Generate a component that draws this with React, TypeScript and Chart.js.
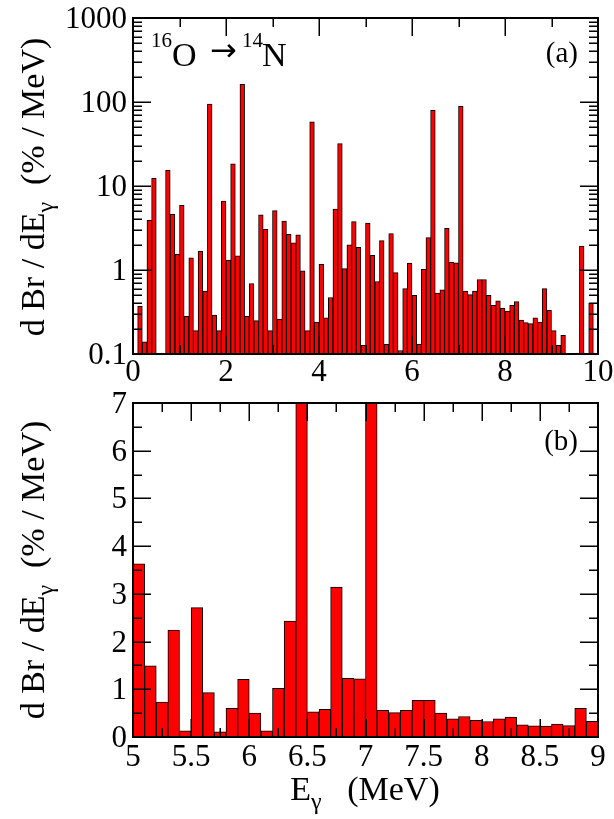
import React, { useEffect, useRef } from "react";
import { Chart, registerables } from "chart.js";
Chart.register(...registerables);

// ---------- data ----------
// gamma-energy bins of 0.1 MeV, lower edges 0.0 ... 9.9 MeV
const binWidth = 0.1;
const binLowEdges: number[] = Array.from({ length: 100 }, (_, i) => i / 10);
// d Br / dE_gamma (% / MeV) per bin (null = empty bin)
const dBrdE: (number | null)[] = [
  null, 0.37, 0.14, 3.9, 12.3, null, null, 15.4, 4.6, 1.54,
  5.9, 0.28, 1.4, 0.19, 1.68, 0.56, 94.6, 0.29, 0.19, 6.6,
  1.31, 18.4, 1.47, 162, 0.28, 0.69, 0.25, 4.55, 3.05, 0.19,
  5.1, 0.26, 3.83, 2.66, 2.11, 2.63, 0.98, 0.19, 58, 0.24,
  1.17, 0.27, 0.47, 5.3, 31.9, 1.04, 1.99, 3.76, 1.86, 0.127,
  3.63, 1.49, 0.73, 2.24, 0.13, 2.71, 0.93, 0.11, 0.6, 1.21,
  0.5, 0.13, 1.02, 2.43, 79.6, 0.53, 0.58, 3.14, 1.23, 1.22,
  88.8, 0.56, 0.51, 0.56, 0.77, 0.77, 0.5, 0.38, 0.43, 0.35,
  0.325, 0.38, 0.42, 0.254, 0.236, 0.23, 0.27, 0.24, 0.6, 0.33,
  0.19, 0.127, 0.167, null, null, null, 1.93, null, 0.4, null,
];

// panel (a) ticks
const topXMajor = [0, 2, 4, 6, 8, 10];
const topXMinor = [1, 3, 5, 7, 9];
const topXLabels = ["0", "2", "4", "6", "8", "10"];
const topYMajor = [0.1, 1, 10, 100, 1000];
const topYLabels = ["0.1", "1", "10", "100", "1000"];
const topYMinorMantissa = [2, 3, 4, 5, 6, 7, 8, 9];

// panel (b) ticks
const botXMajor = [5, 5.5, 6, 6.5, 7, 7.5, 8, 8.5, 9];
const botXLabels = ["5", "5.5", "6", "6.5", "7", "7.5", "8", "8.5", "9"];
const botXMinor = [5.25, 5.75, 6.25, 6.75, 7.25, 7.75, 8.25, 8.75];
const botYMajor = [0, 1, 2, 3, 4, 5, 6, 7];
const botYLabels = ["0", "1", "2", "3", "4", "5", "6", "7"];
const botYMinor = [0.5, 1.5, 2.5, 3.5, 4.5, 5.5, 6.5];
const zoomRange = [5, 9];

// ---------- drawing helpers ----------
const FONT = '"Liberation Serif", serif';
type Seg = { t: string; s: number; dy?: number };

function drawRich(ctx: CanvasRenderingContext2D, segs: Seg[], x: number, y: number, align: "left" | "center" | "right") {
  const widths = segs.map((sg) => {
    ctx.font = `${sg.s}px ${FONT}`;
    return ctx.measureText(sg.t).width;
  });
  const total = widths.reduce((a, b) => a + b, 0);
  let cx = align === "center" ? x - total / 2 : align === "right" ? x - total : x;
  ctx.textAlign = "left";
  ctx.textBaseline = "alphabetic";
  segs.forEach((sg, i) => {
    ctx.font = `${sg.s}px ${FONT}`;
    ctx.fillText(sg.t, cx, y + (sg.dy || 0));
    cx += widths[i];
  });
}

const yTitleSegs: Seg[] = [
  { t: "d Br / dE", s: 34 },
  { t: "γ", s: 24, dy: 9 },
  { t: "  (% / MeV)", s: 34 },
];

type PanelCfg = {
  xMajor: number[];
  xMinor: number[];
  xLabels: string[];
  yMajor: number[];
  yMinor: number[];
  yLabels: string[];
  xLabelBaseline: number;
  titleCenterY: number;
  extra: (ctx: CanvasRenderingContext2D, area: any) => void;
};

function overlay(cfg: PanelCfg) {
  return {
    id: "overlay",
    afterDatasetsDraw(chart: any) {
      const ctx: CanvasRenderingContext2D = chart.ctx;
      const { left, right, top, bottom } = chart.chartArea;
      const xs = chart.scales.x;
      const ys = chart.scales.y;
      ctx.save();
      ctx.strokeStyle = "#000";
      ctx.lineWidth = 1.5;
      const MAJ = 18;
      const MIN = 9;
      const xt = (vals: number[], len: number) => {
        vals.forEach((v) => {
          const px = Math.round(xs.getPixelForValue(v)) + 0.25;
          ctx.beginPath();
          ctx.moveTo(px, bottom);
          ctx.lineTo(px, bottom - len);
          ctx.moveTo(px, top);
          ctx.lineTo(px, top + len);
          ctx.stroke();
        });
      };
      const yt = (vals: number[], len: number) => {
        vals.forEach((v) => {
          const py = Math.round(ys.getPixelForValue(v)) + 0.25;
          ctx.beginPath();
          ctx.moveTo(left, py);
          ctx.lineTo(left + len, py);
          ctx.moveTo(right, py);
          ctx.lineTo(right - len, py);
          ctx.stroke();
        });
      };
      xt(cfg.xMajor, MAJ);
      xt(cfg.xMinor, MIN);
      yt(cfg.yMajor, MAJ);
      yt(cfg.yMinor, MIN);
      ctx.lineWidth = 2;
      ctx.strokeRect(left, top, right - left, bottom - top);
      ctx.restore();
    },
    afterDraw(chart: any) {
      const ctx: CanvasRenderingContext2D = chart.ctx;
      const xs = chart.scales.x;
      const ys = chart.scales.y;
      const area = chart.chartArea;
      ctx.save();
      ctx.fillStyle = "#000";
      ctx.font = `31px ${FONT}`;
      ctx.textBaseline = "alphabetic";
      ctx.textAlign = "center";
      cfg.xMajor.forEach((v, i) => {
        ctx.fillText(cfg.xLabels[i], xs.getPixelForValue(v), cfg.xLabelBaseline);
      });
      ctx.textAlign = "right";
      cfg.yMajor.forEach((v, i) => {
        ctx.fillText(cfg.yLabels[i], area.left - 6, ys.getPixelForValue(v) + 10);
      });
      ctx.save();
      ctx.translate(44, cfg.titleCenterY);
      ctx.rotate(-Math.PI / 2);
      drawRich(ctx, yTitleSegs, 0, 0, "center");
      ctx.restore();
      cfg.extra(ctx, area);
      ctx.restore();
    },
  };
}

function makeChart(canvas: HTMLCanvasElement, opts: {
  points: { x: number; y: number | null }[];
  padding: any;
  xMin: number;
  xMax: number;
  yType: "linear" | "logarithmic";
  yMin: number;
  yMax: number;
  cfg: PanelCfg;
}) {
  return new Chart(canvas, {
    type: "bar",
    data: {
      datasets: [
        {
          data: opts.points as any,
          backgroundColor: "#ff0000",
          borderColor: "#000000",
          borderWidth: 1,
          borderSkipped: false,
          barPercentage: 1,
          categoryPercentage: 1,
          clip: 0,
        } as any,
      ],
    },
    options: {
      animation: false,
      responsive: false,
      devicePixelRatio: 1,
      layout: { padding: opts.padding },
      plugins: { legend: { display: false }, tooltip: { enabled: false } },
      scales: {
        x: { type: "linear", min: opts.xMin, max: opts.xMax, display: false, offset: false },
        y: { type: opts.yType, min: opts.yMin, max: opts.yMax, display: false } as any,
      },
    },
    plugins: [overlay(opts.cfg) as any],
  });
}

export default function App() {
  const topRef = useRef<HTMLCanvasElement>(null);
  const botRef = useRef<HTMLCanvasElement>(null);

  useEffect(() => {
    const centers = binLowEdges.map((e) => +(e + binWidth / 2).toFixed(3));
    const topPoints = centers.map((x, i) => ({ x, y: dBrdE[i] }));
    const botPoints = topPoints.filter((p) => p.x > zoomRange[0] && p.x < zoomRange[1]);

    const topYMinor: number[] = [];
    topYMajor.slice(0, -1).forEach((d) => topYMinorMantissa.forEach((m) => topYMinor.push(+(m * d).toPrecision(3))));

    const topChart = makeChart(topRef.current!, {
      points: topPoints,
      padding: { left: 133, right: 16, top: 18, bottom: 819 - 354 },
      xMin: 0,
      xMax: 10,
      yType: "logarithmic",
      yMin: 0.1,
      yMax: 1000,
      cfg: {
        xMajor: topXMajor,
        xMinor: topXMinor,
        xLabels: topXLabels,
        yMajor: topYMajor,
        yMinor: topYMinor,
        yLabels: topYLabels,
        xLabelBaseline: 381,
        titleCenterY: 187,
        extra: (ctx) => {
          ctx.fillStyle = "#000";
          ctx.textAlign = "left";
          ctx.textBaseline = "alphabetic";
          ctx.font = `21px ${FONT}`;
          ctx.fillText("16", 151, 47);
          ctx.font = `34px ${FONT}`;
          ctx.fillText("O", 172, 66);
          ctx.font = `32px "DejaVu Sans", sans-serif`;
          ctx.fillText("→", 210, 61);
          ctx.font = `21px ${FONT}`;
          ctx.fillText("14", 242, 47);
          ctx.font = `34px ${FONT}`;
          ctx.fillText("N", 262, 66);
          ctx.font = `29px ${FONT}`;
          ctx.textAlign = "right";
          ctx.fillText("(a)", 578, 62);
        },
      },
    });

    const botChart = makeChart(botRef.current!, {
      points: botPoints,
      padding: { left: 133, right: 16, top: 403, bottom: 819 - 737 },
      xMin: zoomRange[0],
      xMax: zoomRange[1],
      yType: "linear",
      yMin: 0,
      yMax: 7,
      cfg: {
        xMajor: botXMajor,
        xMinor: botXMinor,
        xLabels: botXLabels,
        yMajor: botYMajor,
        yMinor: botYMinor,
        yLabels: botYLabels,
        xLabelBaseline: 766,
        titleCenterY: 570,
        extra: (ctx) => {
          ctx.fillStyle = "#000";
          ctx.font = `29px ${FONT}`;
          ctx.textAlign = "right";
          ctx.textBaseline = "alphabetic";
          ctx.fillText("(b)", 578, 450);
          drawRich(
            ctx,
            [
              { t: "E", s: 34 },
              { t: "γ", s: 24, dy: 9 },
              { t: "   (MeV)", s: 34 },
            ],
            365,
            800,
            "center"
          );
        },
      },
    });

    return () => {
      topChart.destroy();
      botChart.destroy();
    };
  }, []);

  const cstyle: React.CSSProperties = { position: "absolute", left: 0, top: 0, width: 614, height: 819 };
  return (
    <div style={{ position: "fixed", left: 0, top: 0, width: 614, height: 819, background: "#fff" }}>
      <canvas ref={topRef} width={614} height={819} style={cstyle} />
      <canvas ref={botRef} width={614} height={819} style={cstyle} />
    </div>
  );
}
